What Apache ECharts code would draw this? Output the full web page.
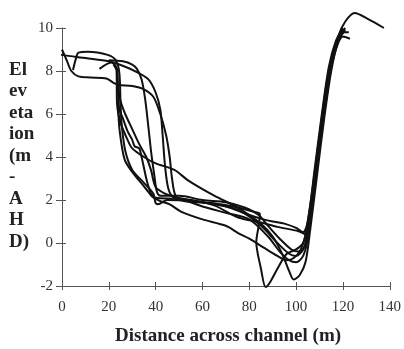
<!DOCTYPE html>
<html>
<head>
<meta charset="utf-8">
<script src="https://cdn.jsdelivr.net/npm/echarts@6/dist/echarts.min.js"></script>
<style>
  html, body { margin: 0; padding: 0; background: #fff; }
  #main { width: 404px; height: 349px; }
</style>
</head>
<body>
<div id="main"></div>
<script>
// 横断面数据 (距离 m, 高程 m AHD)
var xTicks = [0, 20, 40, 60, 80, 100, 120, 140];
var yTicks = [-2, 0, 2, 4, 6, 8, 10];

var profile1 = [[-17,9.0],[-8,8.95],[0,8.75],[10,8.6],[20,8.45],[27,8.2],[32,7.95],[37,7.6],[40,7.0],[42,6.2],[43,5.0],[44,3.6],[45.5,2.5],[48,2.1],[55,2.0],[65,1.75],[75,1.2],[85,0.95],[92,0.75],[101,0.55],[104,0.4],[106,1.5],[109,3.5],[112,6.0],[115,8.2],[118,9.6],[121,10.3],[125,10.7],[131,10.4],[137.5,10.0]];
var profile2 = [[0,9.0],[2,8.5],[4,8.0],[7,7.75],[12,7.7],[19,7.65],[22,7.45],[24,7.35],[30,7.3],[35,7.15],[39,6.8],[42,6.0],[44.5,5.0],[46,4.0],[47,3.0],[48.5,2.2],[52,1.95],[65,1.85],[75,1.65],[82,1.45],[84.5,1.35],[84,0.8],[83,0.05],[85,-1.2],[87,-2.05],[89,-1.8],[92.5,-1.1],[96,-0.5],[100,-0.3],[103,0.0],[105,0.8],[108,3.0],[111,5.5],[114,7.8],[117,9.2],[120,9.8],[122.5,9.8]];
var profile3 = [[4.7,8.05],[6,8.6],[7,8.85],[11,8.9],[19.5,8.75],[23,8.5],[24.5,7.9],[25,6.5],[25.5,5.5],[27,4.3],[30,3.4],[35,2.8],[39,2.3],[40,1.85],[41,1.8],[45,2.0],[55,1.95],[65,1.8],[75,1.55],[85,0.8],[92,0.0],[97,-0.5],[100,-0.6],[103,-0.3],[105,0.5],[108,2.8],[111,5.3],[114,7.6],[117,9.0],[120,9.6],[123,9.5]];
var profile4 = [[16,8.1],[21,8.4],[23.5,8.1],[24,7.0],[24.5,6.2],[26,5.8],[28,5.2],[30,4.8],[31,4.5],[33,4.4],[34,4.0],[36,3.0],[37,2.6],[38,2.3],[40,2.1],[50,2.05],[60,1.7],[70,1.4],[80,1.1],[88,0.3],[93,-0.4],[97,-0.8],[100,-0.9],[103,-0.6],[105,0.2],[107,2.0],[110,4.5],[113,7.0],[116,8.9],[119,9.7],[121,10.0]];
var profile5 = [[20,8.5],[26,8.45],[30,8.3],[32,8.1],[34,7.6],[35.5,6.7],[37,5.3],[38,4.3],[39.5,3.1],[40.5,2.4],[42,2.2],[50,2.2],[60,2.0],[70,1.9],[78,1.65],[84,1.3],[88,0.8],[93,0.2],[98,-0.3],[101,-0.4],[104,-0.1],[106,1.2],[109,3.6],[112,6.2],[115,8.4],[118,9.5],[120,9.9]];
var profile6 = [[22,8.3],[23.3,8.0],[23.5,6.5],[25,5.6],[28,4.8],[30,4.4],[35,4.0],[40,3.7],[48,3.4],[54,2.9],[65,2.2],[75,1.65],[85,0.9],[90,0.3],[94,-0.5],[97,-1.3],[99,-1.7],[101.5,-1.5],[104,-0.9],[106,0.6],[109,3.2],[112,5.8],[115,8.0],[118,9.4],[121,9.9]];
var profile7 = [[24,6.3],[24.6,5.25],[26.7,3.9],[30,3.3],[33,2.9],[36,2.5],[38.6,2.15],[42,1.95],[46,1.8],[51,1.45],[60,1.1],[70,0.8],[75.4,0.45],[80,0.2],[86,-0.2],[92,-0.6],[96,-0.8],[99,-0.7],[102,-0.3],[104,0.4],[107,2.5],[110,5.0],[113,7.4],[116,9.0],[119,9.7]];
var profile8 = [[24,7.3],[25,6.6],[27,6.0],[30,5.3],[33,4.6],[36,4.0],[38,3.4],[40,2.6],[44,2.3],[50,2.1],[60,1.9],[70,1.7],[80,1.3],[86,1.1],[90,1.0],[95,0.9],[100,0.7],[103,0.5],[105,1.0],[108,3.5],[111,6.0],[114,8.2],[117,9.4],[120,10.0]];

var profiles = [profile1, profile2, profile3, profile4, profile5, profile6, profile7, profile8];

var myChart = echarts.init(document.getElementById('main'));
var option;

var serif = '"Liberation Serif", "DejaVu Serif", serif';

option = {
  animation: false,
  backgroundColor: '#fff',
  grid: { left: 62, right: 11, top: 28, bottom: 63 },
  xAxis: [
    {
      type: 'value',
      min: xTicks[0],
      max: xTicks[xTicks.length - 1],
      interval: 20,
      splitLine: { show: false },
      axisLine: { onZero: false, lineStyle: { color: '#555', width: 1 } },
      axisTick: { length: 4, lineStyle: { color: '#555' } },
      axisLabel: { margin: 14, color: '#333', fontFamily: serif, fontSize: 15 }
    },
    {
      // 内侧刻度
      type: 'value',
      position: 'bottom',
      min: xTicks[0],
      max: xTicks[xTicks.length - 1],
      interval: 20,
      splitLine: { show: false },
      axisLine: { show: false, onZero: false },
      axisTick: { inside: true, length: 4, lineStyle: { color: '#555' } },
      axisLabel: { show: false }
    }
  ],
  yAxis: [
    {
      type: 'value',
      min: yTicks[0],
      max: yTicks[yTicks.length - 1],
      interval: 2,
      splitLine: { show: false },
      axisLine: { show: true, onZero: false, lineStyle: { color: '#555', width: 1 } },
      axisTick: { show: true, length: 6, lineStyle: { color: '#555' } },
      axisLabel: { margin: 9, color: '#333', fontFamily: serif, fontSize: 15 }
    },
    {
      type: 'value',
      position: 'left',
      min: yTicks[0],
      max: yTicks[yTicks.length - 1],
      interval: 2,
      splitLine: { show: false },
      axisLine: { show: false, onZero: false },
      axisTick: { show: true, inside: true, length: 4, lineStyle: { color: '#555' } },
      axisLabel: { show: false }
    }
  ],
  graphic: [
    {
      type: 'text',
      left: 9,
      top: 59,
      style: {
        text: 'El\nev\neta\nion\n(m\n-\nA\nH\nD)',
        font: 'bold 19px ' + serif,
        lineHeight: 21.5,
        fill: '#222'
      }
    },
    {
      type: 'text',
      left: 115,
      top: 327,
      style: {
        text: 'Distance across channel (m)',
        font: 'bold 19px ' + serif,
        fill: '#222'
      }
    }
  ],
  series: profiles.map(function (p) {
    return {
      type: 'line',
      data: p,
      smooth: 0.3,
      showSymbol: false,
      clip: false,
      lineStyle: { color: '#111', width: 2 }
    };
  })
};

option && myChart.setOption(option);
</script>
</body>
</html>
